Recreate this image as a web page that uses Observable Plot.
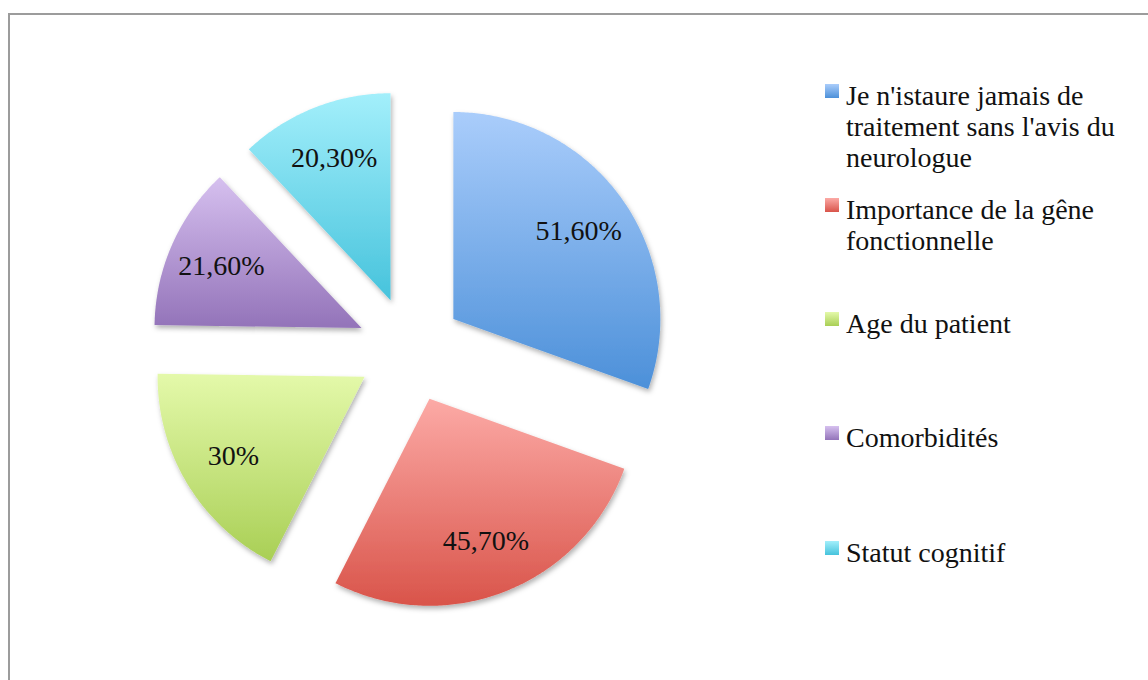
<!DOCTYPE html>
<html><head><meta charset="utf-8">
<script src="https://cdn.jsdelivr.net/npm/d3@7"></script>
<script src="https://cdn.jsdelivr.net/npm/@observablehq/plot@0.6"></script>
<style>
html,body{margin:0;padding:0;background:#fff;}
#wrap{position:relative;width:1148px;height:680px;overflow:hidden;font-family:"Liberation Serif",serif;}
#frame{position:absolute;left:8px;top:13px;width:1200px;height:720px;border-left:2px solid #9c9c9c;border-top:2px solid #9c9c9c;}
#chart{position:absolute;left:0;top:0;}
#legend{position:absolute;left:825px;top:0;width:323px;height:680px;}
.item{position:absolute;left:0;width:320px;display:flex;align-items:flex-start;}
.sw{width:14px;height:14px;margin-top:4px;margin-right:7px;flex:none;}
.lt{font-size:28px;line-height:31px;color:#111;width:296px;}
</style></head><body>
<div id="wrap"><div id="frame"></div><div id="chart"></div><div id="legend"></div></div>
<script>
const categories = [
  "Je n'istaure jamais de traitement sans l'avis du neurologue",
  "Importance de la gêne fonctionnelle",
  "Age du patient",
  "Comorbidités",
  "Statut cognitif"
];
const values = [51.6, 45.7, 30, 21.6, 20.3];
const valueLabels = ["51,60%", "45,70%", "30%", "21,60%", "20,30%"];
const topColors = ["#aacdfb", "#fcaaa6", "#e4f9aa", "#d6c0ef", "#a3effb"];
const bottomColors = ["#4c90d9", "#d9544a", "#a9cf55", "#9373b9", "#46c3dc"];

const W = 800, H = 680, cx = 409.5, cy = 349, pxPerUnit = 207;
const explode = 0.256, labelR = 0.74;

const arcs = d3.pie().sort(null).value(d => d)(values);
const pts = [];
const labels = [];
arcs.forEach((a, i) => {
  const cat = categories[i];
  const mid = (a.startAngle + a.endAngle) / 2;
  const ox = explode * Math.sin(mid), oy = explode * Math.cos(mid);
  pts.push({cat, x: ox, y: oy});
  const n = Math.max(2, Math.ceil((a.endAngle - a.startAngle) / 0.01));
  for (let k = 0; k <= n; k++) {
    const t = a.startAngle + (a.endAngle - a.startAngle) * k / n;
    pts.push({cat, x: ox + Math.sin(t), y: oy + Math.cos(t)});
  }
  labels.push({text: valueLabels[i], x: ox + labelR * Math.sin(mid), y: oy + labelR * Math.cos(mid)});
});

const gradIds = categories.map((_, i) => "grad" + i);
const svg = Plot.plot({
  width: W, height: H, margin: 0,
  style: {fontFamily: "Liberation Serif", background: "transparent"},
  x: {domain: [-cx / pxPerUnit, (W - cx) / pxPerUnit], axis: null},
  y: {domain: [-(H - cy) / pxPerUnit, cy / pxPerUnit], axis: null},
  color: {type: "ordinal", domain: categories, range: gradIds.map(id => `url(#${id})`)},
  marks: [
    Plot.line(pts, {x: "x", y: "y", z: "cat", fill: "cat", stroke: "none", curve: "linear-closed"}),
    Plot.text(labels, {x: "x", y: "y", text: "text", fontSize: 28, fill: "#111"})
  ]
});

const defs = d3.select(svg).insert("defs", ":first-child");
gradIds.forEach((id, i) => {
  const g = defs.append("linearGradient").attr("id", id).attr("x1", 0).attr("y1", 0).attr("x2", 0).attr("y2", 1);
  g.append("stop").attr("offset", "0%").attr("stop-color", topColors[i]);
  g.append("stop").attr("offset", "100%").attr("stop-color", bottomColors[i]);
});
const f = defs.append("filter").attr("id", "shadow").attr("x", "-10%").attr("y", "-10%").attr("width", "130%").attr("height", "130%");
f.append("feDropShadow").attr("dx", 1.5).attr("dy", 3).attr("stdDeviation", 2.5).attr("flood-color", "#000").attr("flood-opacity", 0.3);
d3.select(svg).selectAll('g[aria-label="line"] path').attr("filter", "url(#shadow)");

document.getElementById("chart").appendChild(svg);

const legend = d3.select("#legend");
categories.forEach((c, i) => {
  const it = legend.append("div").attr("class", "item").style("top", (79.5 + i * 114.3) + "px");
  it.append("div").attr("class", "sw").style("background", `linear-gradient(to bottom, ${topColors[i]}, ${bottomColors[i]})`);
  it.append("div").attr("class", "lt").text(c);
});
</script>
</body></html>
